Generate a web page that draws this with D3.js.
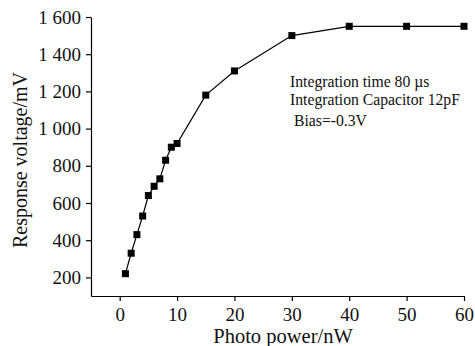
<!DOCTYPE html>
<html>
<head>
<meta charset="utf-8">
<script src="https://cdn.jsdelivr.net/npm/d3@7"></script>
<style>
  body { margin: 0; background: #fff; }
  svg { display: block; font-family: "Liberation Serif", "Times New Roman", serif; }
</style>
</head>
<body>
<svg id="chart" width="475" height="346"></svg>
<script>
// photo power (nW) vs response voltage (mV)
const power = [1, 2, 3, 4, 5, 6, 7, 8, 9, 10, 15, 20, 30, 40, 50, 60];
const voltage = [220, 330, 430, 530, 640, 690, 730, 830, 900, 920, 1180, 1310, 1500, 1550, 1550, 1550];
const xTicks = [0, 10, 20, 30, 40, 50, 60];
const yTicks = [200, 400, 600, 800, 1000, 1200, 1400, 1600];
const notes = ["Integration time 80 \u00b5s", "Integration Capacitor 12pF", "Bias=-0.3V"];

const svg = d3.select('#chart');

const x = d3.scaleLinear().domain([-5, 60]).range([91, 464]);
const y = d3.scaleLinear().domain([100, 1600]).range([296, 17]);

// thousands separated by a space: "1 600"
const fmt = d3.formatLocale({ decimal: '.', thousands: ' ', grouping: [3], currency: ['', ''] }).format(',d');

const xAxis = svg.append('g')
    .attr('transform', 'translate(0,296)')
    .call(d3.axisBottom(x).tickValues(xTicks).tickSize(5).tickPadding(7).tickSizeOuter(0));

const yAxis = svg.append('g')
    .attr('transform', 'translate(91,0)')
    .call(d3.axisLeft(y).tickValues(yTicks).tickFormat(fmt).tickSize(5).tickPadding(5).tickSizeOuter(0));

[xAxis, yAxis].forEach(a => {
    a.attr('font-size', null).attr('font-family', null);
    a.selectAll('path, line').attr('stroke', '#000').attr('stroke-width', 1.2);
    a.selectAll('text').attr('fill', '#111').style('font-size', '19px');
});

svg.append('text')
    .attr('x', 283).attr('y', 343)
    .attr('text-anchor', 'middle')
    .attr('fill', '#111')
    .style('font-size', '20.5px')
    .text('Photo power/nW');

svg.append('text')
    .attr('transform', 'translate(27,160) rotate(-90)')
    .attr('text-anchor', 'middle')
    .attr('fill', '#111')
    .style('font-size', '20px')
    .text('Response voltage/mV');

const pts = power.map((p, i) => ({ p: p, v: voltage[i] }));

svg.append('path')
    .datum(pts)
    .attr('fill', 'none')
    .attr('stroke', '#000')
    .attr('stroke-width', 1.2)
    .attr('d', d3.line().x(d => x(d.p)).y(d => y(d.v)));

svg.selectAll('rect.pt')
    .data(pts)
    .enter().append('rect')
    .attr('class', 'pt')
    .attr('x', d => x(d.p) - 3.5)
    .attr('y', d => y(d.v) - 3.5)
    .attr('width', 7)
    .attr('height', 7)
    .attr('fill', '#000');

svg.selectAll('text.note')
    .data(notes)
    .enter().append('text')
    .attr('class', 'note')
    .attr('x', (d, i) => i === 2 ? 294 : 290)
    .attr('y', (d, i) => [87, 105, 126][i])
    .attr('fill', '#111')
    .style('font-size', '15.7px')
    .text(d => d);
</script>
</body>
</html>
